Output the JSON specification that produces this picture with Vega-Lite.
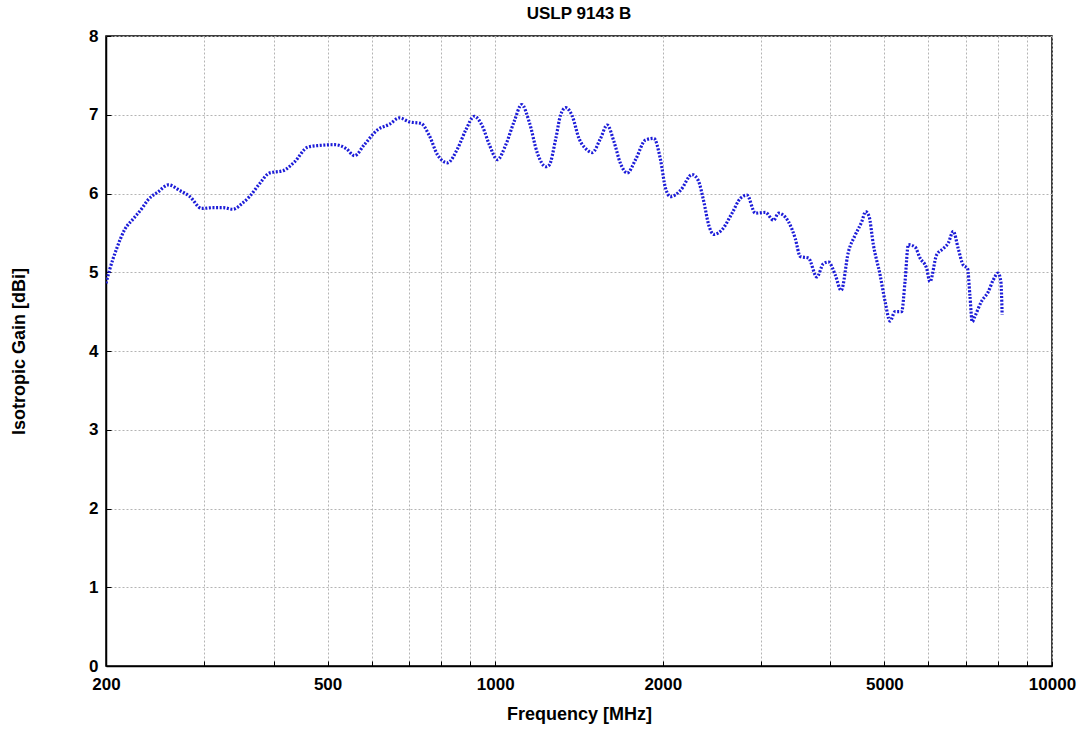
{
  "$schema": "https://vega.github.io/schema/vega-lite/v6.json",
  "width": 946,
  "height": 630,
  "autosize": {"type": "none"},
  "padding": {"left": 106, "top": 36, "right": 37, "bottom": 63},
  "background": "white",
  "title": {
    "text": "USLP 9143 B",
    "font": "Liberation Sans",
    "fontSize": 17,
    "fontWeight": "bold",
    "color": "black",
    "offset": 4
  },
  "config": {
    "view": {"stroke": "black", "strokeWidth": 1.5},
    "axis": {
      "labelFont": "Liberation Sans",
      "labelFontSize": 17,
      "labelFontWeight": "bold",
      "labelColor": "black",
      "titleFont": "Liberation Sans",
      "titleFontSize": 18,
      "titleFontWeight": "bold",
      "titleColor": "black",
      "domainColor": "black",
      "domainWidth": 1.5,
      "tickColor": "black",
      "gridColor": "#b4b4b4",
      "gridDash": [2, 2],
      "gridWidth": 1
    }
  },
  "data": {
    "values": [
      {"freq": 200, "gain": 4.86}, {"freq": 203, "gain": 5.03}, {"freq": 209, "gain": 5.30},
      {"freq": 216, "gain": 5.54}, {"freq": 224, "gain": 5.68}, {"freq": 232, "gain": 5.81},
      {"freq": 238, "gain": 5.92}, {"freq": 248, "gain": 6.02}, {"freq": 259, "gain": 6.11},
      {"freq": 271, "gain": 6.04}, {"freq": 283, "gain": 5.96}, {"freq": 297, "gain": 5.81},
      {"freq": 311, "gain": 5.82}, {"freq": 325, "gain": 5.82}, {"freq": 338, "gain": 5.80},
      {"freq": 352, "gain": 5.88}, {"freq": 362, "gain": 5.96}, {"freq": 378, "gain": 6.13},
      {"freq": 393, "gain": 6.26}, {"freq": 416, "gain": 6.29}, {"freq": 436, "gain": 6.40},
      {"freq": 461, "gain": 6.59}, {"freq": 484, "gain": 6.61}, {"freq": 515, "gain": 6.62},
      {"freq": 540, "gain": 6.57}, {"freq": 559, "gain": 6.48}, {"freq": 582, "gain": 6.62},
      {"freq": 615, "gain": 6.81}, {"freq": 646, "gain": 6.88}, {"freq": 673, "gain": 6.96},
      {"freq": 701, "gain": 6.91}, {"freq": 736, "gain": 6.89}, {"freq": 761, "gain": 6.74},
      {"freq": 788, "gain": 6.49}, {"freq": 821, "gain": 6.39}, {"freq": 856, "gain": 6.57},
      {"freq": 886, "gain": 6.81}, {"freq": 917, "gain": 6.98}, {"freq": 949, "gain": 6.85},
      {"freq": 976, "gain": 6.62}, {"freq": 1009, "gain": 6.43}, {"freq": 1045, "gain": 6.62},
      {"freq": 1081, "gain": 6.91}, {"freq": 1116, "gain": 7.13}, {"freq": 1151, "gain": 6.91},
      {"freq": 1191, "gain": 6.51}, {"freq": 1233, "gain": 6.34}, {"freq": 1250, "gain": 6.36},
      {"freq": 1285, "gain": 6.70}, {"freq": 1311, "gain": 7.00}, {"freq": 1339, "gain": 7.09},
      {"freq": 1376, "gain": 6.98}, {"freq": 1414, "gain": 6.70}, {"freq": 1454, "gain": 6.57},
      {"freq": 1494, "gain": 6.52}, {"freq": 1546, "gain": 6.70}, {"freq": 1589, "gain": 6.87},
      {"freq": 1634, "gain": 6.66}, {"freq": 1679, "gain": 6.38}, {"freq": 1726, "gain": 6.26},
      {"freq": 1787, "gain": 6.43}, {"freq": 1862, "gain": 6.68}, {"freq": 1927, "gain": 6.70},
      {"freq": 1981, "gain": 6.43}, {"freq": 2022, "gain": 6.07}, {"freq": 2065, "gain": 5.96},
      {"freq": 2152, "gain": 6.04}, {"freq": 2257, "gain": 6.24}, {"freq": 2314, "gain": 6.17},
      {"freq": 2369, "gain": 5.90}, {"freq": 2418, "gain": 5.60}, {"freq": 2469, "gain": 5.48},
      {"freq": 2555, "gain": 5.54}, {"freq": 2663, "gain": 5.75}, {"freq": 2757, "gain": 5.94},
      {"freq": 2833, "gain": 5.98}, {"freq": 2932, "gain": 5.75}, {"freq": 3055, "gain": 5.76},
      {"freq": 3162, "gain": 5.66}, {"freq": 3228, "gain": 5.75}, {"freq": 3364, "gain": 5.64},
      {"freq": 3458, "gain": 5.43}, {"freq": 3531, "gain": 5.20}, {"freq": 3653, "gain": 5.18},
      {"freq": 3781, "gain": 4.94}, {"freq": 3887, "gain": 5.11}, {"freq": 3968, "gain": 5.13},
      {"freq": 4079, "gain": 4.97}, {"freq": 4182, "gain": 4.77}, {"freq": 4309, "gain": 5.26},
      {"freq": 4430, "gain": 5.47}, {"freq": 4552, "gain": 5.64}, {"freq": 4628, "gain": 5.77},
      {"freq": 4693, "gain": 5.71}, {"freq": 4777, "gain": 5.35}, {"freq": 4911, "gain": 4.97},
      {"freq": 5014, "gain": 4.63}, {"freq": 5119, "gain": 4.38}, {"freq": 5225, "gain": 4.50},
      {"freq": 5370, "gain": 4.50}, {"freq": 5445, "gain": 4.88}, {"freq": 5521, "gain": 5.35},
      {"freq": 5676, "gain": 5.32}, {"freq": 5794, "gain": 5.18}, {"freq": 5954, "gain": 5.05},
      {"freq": 6037, "gain": 4.88}, {"freq": 6205, "gain": 5.22}, {"freq": 6378, "gain": 5.30},
      {"freq": 6511, "gain": 5.37}, {"freq": 6647, "gain": 5.52}, {"freq": 6786, "gain": 5.30},
      {"freq": 6927, "gain": 5.09}, {"freq": 7051, "gain": 5.05}, {"freq": 7121, "gain": 4.71},
      {"freq": 7190, "gain": 4.37}, {"freq": 7270, "gain": 4.44}, {"freq": 7471, "gain": 4.63},
      {"freq": 7680, "gain": 4.75}, {"freq": 7841, "gain": 4.90}, {"freq": 8005, "gain": 4.99},
      {"freq": 8094, "gain": 4.88}, {"freq": 8137, "gain": 4.46}
    ]
  },
  "mark": {
    "type": "line",
    "color": "#1c1cd8",
    "strokeWidth": 3.2,
    "strokeDash": [2, 1.6],
    "interpolate": "monotone",
    "clip": true
  },
  "encoding": {
    "x": {
      "field": "freq",
      "type": "quantitative",
      "scale": {"type": "log", "domain": [200, 10000], "nice": false},
      "axis": {
        "title": "Frequency [MHz]",
        "values": [200, 300, 400, 500, 600, 700, 800, 900, 1000, 2000, 3000, 4000, 5000, 6000, 7000, 8000, 9000, 10000],
        "labelExpr": "indexof([200, 500, 1000, 2000, 5000, 10000], datum.value) >= 0 ? format(datum.value, 'd') : ''",
        "tickSize": -5,
        "labelPadding": 15,
        "labelOverlap": false,
        "labelFlush": false,
        "titlePadding": 13
      }
    },
    "y": {
      "field": "gain",
      "type": "quantitative",
      "scale": {"domain": [0, 8], "nice": false, "zero": true},
      "axis": {
        "title": "Isotropic Gain [dBi]",
        "values": [0, 1, 2, 3, 4, 5, 6, 7, 8],
        "format": "d",
        "tickSize": -5,
        "labelPadding": 13,
        "titlePadding": 60
      }
    }
  }
}
